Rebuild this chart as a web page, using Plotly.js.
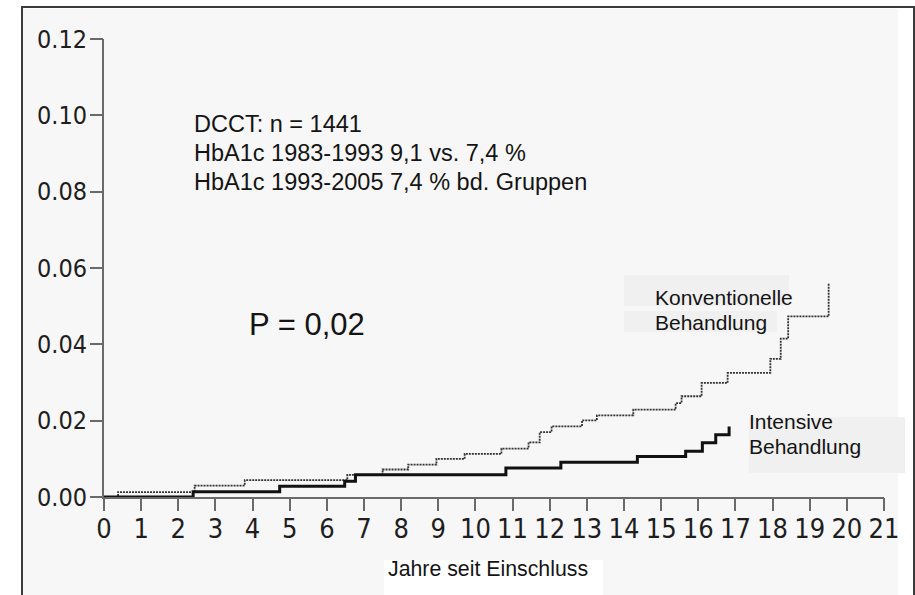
<!DOCTYPE html>
<html>
<head>
<meta charset="utf-8">
<script src="https://cdn.plot.ly/plotly-3.0.1.min.js"></script>
<style>
  html, body { margin:0; padding:0; background:#ffffff; }
  body { width:915px; height:595px; overflow:hidden; position:relative; }
  .bg { position:absolute; }
  #frame { left:21px; top:6px; width:890px; height:640px; border:2px solid #3a3a3a; border-bottom:none; }
  #gray { left:23px; top:9px; width:875px; height:600px; background:#f7f7f7; }
  #xtbox { left:384px; top:560px; width:219px; height:40px; background:#ffffff; }
  #k1 { left:624px; top:275px; width:165px; height:31px; background:#f0f0f0; }
  #k2 { left:624px; top:311px; width:153px; height:21px; background:#f0f0f0; }
  #ib { left:749px; top:417px; width:156px; height:56px; background:#f0f0f0; }
  #chart { position:absolute; left:0; top:0; width:915px; height:595px; }
</style>
</head>
<body>
<div id="frame" class="bg"></div>
<div id="gray" class="bg"></div>
<div id="xtbox" class="bg"></div>
<div id="k1" class="bg"></div>
<div id="k2" class="bg"></div>
<div id="ib" class="bg"></div>
<div id="chart"></div>
<script>
// Years since inclusion (step times) and cumulative incidence
const intensiveYears = [0, 2.40, 4.73, 6.48, 6.77, 10.82, 12.30, 14.36, 15.66, 16.11, 16.47, 16.83];
const intensiveRisk  = [0, 0.0014, 0.0028, 0.0041, 0.0058, 0.0076, 0.0091, 0.0106, 0.0120, 0.0142, 0.0163, 0.0185];

const conventionalYears = [0, 0.38, 2.44, 3.79, 6.55, 7.50, 8.19, 8.95, 9.71, 10.70, 11.43, 11.73, 12.05, 12.87, 13.27, 14.25, 15.39, 15.55, 16.09, 16.79, 17.94, 18.22, 18.42, 19.51];
const conventionalRisk  = [0, 0.0013, 0.0030, 0.0044, 0.0058, 0.0072, 0.0085, 0.0100, 0.0113, 0.0127, 0.0143, 0.0170, 0.0185, 0.0201, 0.0214, 0.0229, 0.0246, 0.0264, 0.0299, 0.0325, 0.0362, 0.0415, 0.0473, 0.0559];

const xTickVals = [0,1,2,3,4,5,6,7,8,9,10,11,12,13,14,15,16,17,18,19,20,21];
const xTickText = ["0","1","2","3","4","5","6","7","8","9","10","11","12","13","14","15","16","17","18","19","20","21"];
const yTickVals = [0, 0.02, 0.04, 0.06, 0.08, 0.10, 0.12];
const yTickText = ["0.00","0.02","0.04","0.06","0.08","0.10","0.12"];

const infoLines = ["DCCT: n = 1441", "HbA1c 1983-1993 9,1 vs. 7,4 %", "HbA1c 1993-2005 7,4 % bd. Gruppen"];
const pText = "P = 0,02";
const convLabel = ["Konventionelle", "Behandlung"];
const intLabel = ["Intensive", "Behandlung"];
const xTitle = "Jahre seit Einschluss";

const L = 104, T = 39, W = 780, H = 458;
function px(x){ return (x - L) / W; }
function py(y){ return (T + H - y) / H; }
const textFont = "Liberation Sans, Arial, sans-serif";
function ann(text, left, baseline, size){
  return {
    text: text, xref: 'paper', yref: 'paper',
    x: px(left), y: py(baseline - 0.3465*size),
    xanchor: 'left', yanchor: 'middle', showarrow: false,
    borderpad: 0, align: 'left',
    font: {family: textFont, size: size, color: '#141414'}
  };
}

const traces = [
  {
    x: conventionalYears, y: conventionalRisk, type: 'scatter', mode: 'lines',
    line: {shape: 'hv', color: '#333333', width: 1.8, dash: '2px,1px'},
    name: 'Konventionelle Behandlung', hoverinfo: 'skip'
  },
  {
    x: intensiveYears, y: intensiveRisk, type: 'scatter', mode: 'lines',
    xaxis: 'x2', yaxis: 'y2',
    line: {shape: 'hv', color: '#111111', width: 3},
    name: 'Intensive Behandlung', hoverinfo: 'skip'
  }
];

const annotations = [
  ann(infoLines[0], 193, 132.3, 23.5),
  ann(infoLines[1], 193, 161.5, 23.5),
  ann(infoLines[2], 193, 190.5, 23.5),
  ann(pText, 248, 335, 31),
  ann(convLabel[0], 654, 305, 21),
  ann(convLabel[1], 654, 330, 21),
  ann(intLabel[0], 748, 429, 21),
  ann(intLabel[1], 748, 454, 21),
  ann(xTitle, 387, 576, 21.3)
];

const axisGray = '#6a6a6a';
const layout = {
  width: 915, height: 595,
  margin: {l: L, r: 915 - L - W, t: T, b: 595 - T - H, pad: 0, autoexpand: false},
  paper_bgcolor: 'rgba(0,0,0,0)', plot_bgcolor: 'rgba(0,0,0,0)',
  showlegend: false,
  // labelled axes (shorter ticks so labels sit close to the axis)
  xaxis: {
    range: [0, 21], tickvals: xTickVals, ticktext: xTickText,
    showline: true, linecolor: axisGray, linewidth: 2,
    ticks: 'outside', ticklen: 7, tickwidth: 2, tickcolor: axisGray,
    showgrid: false, zeroline: false,
    tickfont: {family: 'Liberation Sans Narrow, DejaVu Sans Condensed, sans-serif', size: 27, color: '#1e1e1e'}
  },
  yaxis: {
    range: [0, 0.12], tickvals: yTickVals, ticktext: yTickText,
    showline: true, linecolor: axisGray, linewidth: 2,
    ticks: 'outside', ticklen: 10, tickwidth: 2, tickcolor: axisGray,
    showgrid: false, zeroline: false,
    tickfont: {family: 'DejaVu Sans Condensed, DejaVu Sans, sans-serif', size: 25, color: '#1e1e1e'}
  },
  // overlay axes drawing the full-length tick marks
  xaxis2: {
    overlaying: 'x', matches: 'x', anchor: 'y2', side: 'bottom',
    range: [0, 21], tickvals: xTickVals, showticklabels: false,
    showline: false, ticks: 'outside', ticklen: 13, tickwidth: 2, tickcolor: axisGray,
    showgrid: false, zeroline: false
  },
  yaxis2: {
    overlaying: 'y', matches: 'y', anchor: 'x2', side: 'left',
    range: [0, 0.12], tickvals: yTickVals, showticklabels: false,
    showline: false, ticks: 'outside', ticklen: 13, tickwidth: 2, tickcolor: axisGray,
    showgrid: false, zeroline: false
  },
  annotations: annotations
};

Plotly.newPlot('chart', traces, layout, {staticPlot: true, displayModeBar: false});
</script>
</body>
</html>
